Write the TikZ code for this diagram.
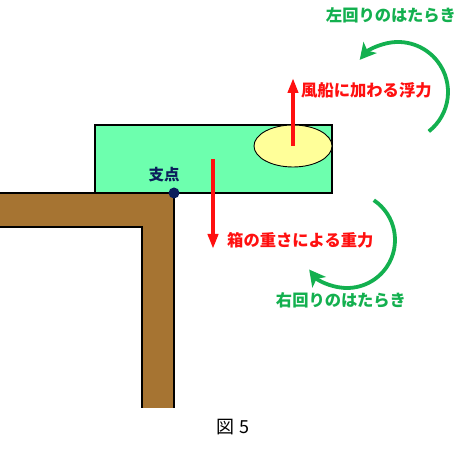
\documentclass[tikz,border=0pt]{standalone}
\usepackage{fontspec}
\newfontfamily\jpfont{Noto Sans CJK JP}
\usepackage{xcolor}
\usepackage{tikz}
\usetikzlibrary{shapes,arrows,positioning,calc,arrows.meta}

\definecolor{woodbrown}{HTML}{A67432}
\definecolor{boxgreen}{HTML}{6DFFAE}
\definecolor{balloonyellow}{HTML}{FFFF99}
\definecolor{turngreen}{HTML}{13B04F}
\definecolor{pivotnavy}{HTML}{0B1E5B}
\definecolor{forcered}{HTML}{FF1010}

\tikzset{
    force/.style={line width=3.8pt, forcered, -{Triangle[width=10pt,length=15pt]}},
    turn/.style={line width=3.8pt, turngreen, -{Stealth[width=17pt,length=16pt,inset=4pt]}},
    forcelabel/.style={font=\jpfont\bfseries\fontsize{16.3}{17}\selectfont, text=forcered, anchor=west, inner sep=0pt},
    turnlabel/.style={font=\jpfont\bfseries\fontsize{16.3}{17}\selectfont, text=turngreen, inner sep=0pt}
}

\begin{document}
\begin{tikzpicture}[x=1pt, y=1pt]
    \useasboundingbox (0,0) rectangle (470,454);

    % Table
    \fill [woodbrown] (0,227) rectangle (174,261);
    \fill [woodbrown] (142,46) rectangle (174,227);
    \draw [line width=1.3pt] (0,261) -- (174,261) -- (174,46);
    \draw [line width=1.3pt] (0,227) -- (142,227) -- (142,46);

    % Box and balloon
    \node (box) [draw, line width=1.3pt, fill=boxgreen, minimum width=237pt, minimum height=68pt, inner sep=0pt] at (213.5,295) {};
    \node (balloon) [draw, line width=0.9pt, fill=balloonyellow, ellipse, minimum width=78pt, minimum height=42pt, inner sep=0pt] at (293,308) {};

    % Pivot
    \node (pivot) [circle, fill=pivotnavy, minimum size=11pt, inner sep=0pt] at (174,261) {};
    \node (pivotlabel) [font=\jpfont\bfseries\fontsize{15.5}{16}\selectfont, text=pivotnavy, inner sep=0pt] at (164,279) {支点};

    % Forces
    \coordinate (buoytip) at (293,376);
    \draw [force] (balloon.center) -- (buoytip);
    \node (buoylabel) [forcelabel] at (301,364) {風船に加わる浮力};

    \coordinate (weighttop) at (213,295);
    \coordinate (weighttip) at (213,205);
    \draw [force] (weighttop) -- (weighttip);
    \node (weightlabel) [forcelabel] at (227,214) {箱の重さによる重力};

    % Turning effects
    \draw [turn] ($(398,362)+(-52:50)$) arc [start angle=-52, end angle=140, radius=50];
    \node (leftturn) [turnlabel] at (391,439) {左回りのはたらき};

    \draw [turn] ($(347,214)+(56:48)$) arc [start angle=56, end angle=-142, radius=48];
    \node (rightturn) [turnlabel] at (341,154) {右回りのはたらき};

    \node (caption) [font=\jpfont\fontsize{18}{20}\selectfont, inner sep=0pt] at (233,27) {図 5};
\end{tikzpicture}
\end{document}
